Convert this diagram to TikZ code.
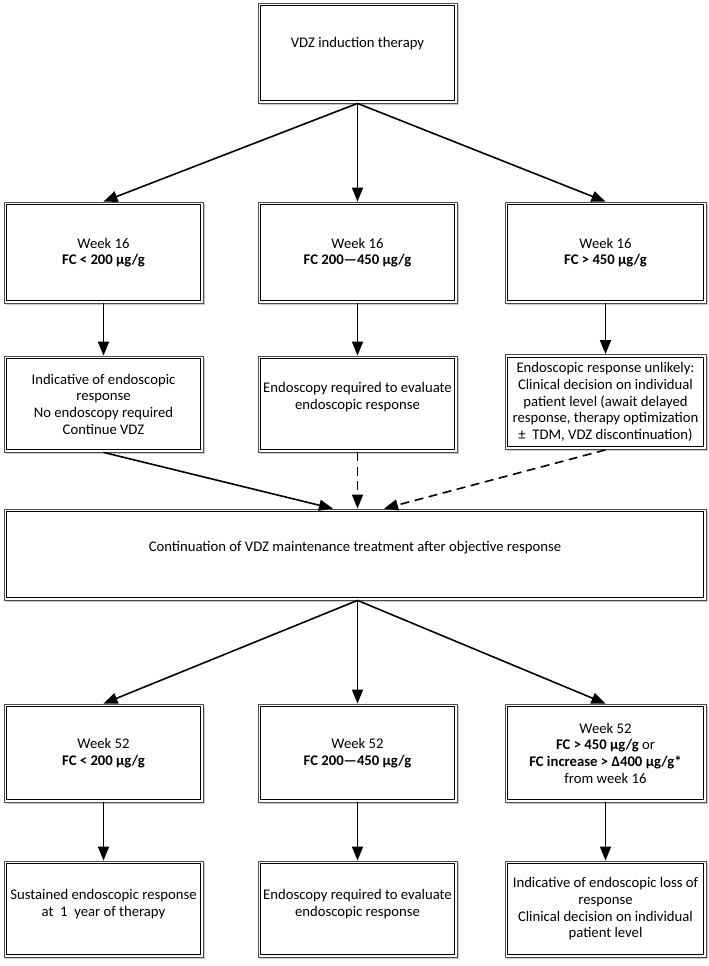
\documentclass[tikz,border=0pt]{standalone}
\usepackage{fontspec}
\setmainfont{Carlito}
\usetikzlibrary{arrows.meta,shadows}
\begin{document}
\begin{tikzpicture}[x=1pt,y=1pt,
  box/.style={rectangle, draw=gray!60!black, line width=0.8pt, fill=white,
    drop shadow={shadow xshift=1.6pt, shadow yshift=-1.6pt, fill=gray!70, opacity=0.6},
    align=center, inner sep=2pt, minimum width=199pt,
    font=\fontsize{14.7}{16.7}\selectfont},
  inframe/.style={draw=black, line width=0.9pt},
  arr/.style={line width=1.6pt, -{Triangle[length=14pt,width=11pt]}},
  darr/.style={arr, dash pattern=on 9pt off 5.5pt}]
\useasboundingbox (0,0) rectangle (709,-966);
% top
\node[box, minimum height=100pt, text depth=21pt] (top) at (357.5,-53) {VDZ induction therapy};
% row 1
\node[box, minimum height=101pt] (a1) at (103.5,-252.5) {Week 16\\\textbf{FC < 200 µg/g}};
\node[box, minimum height=101pt] (b1) at (357.5,-252.5) {Week 16\\\textbf{FC 200—450 µg/g}};
\node[box, minimum height=101pt, minimum width=201pt] (c1) at (605.5,-252.5) {Week 16\\\textbf{FC > 450 µg/g}};
% row 2
\node[box, minimum height=96pt] (a2) at (103.5,-404) {Indicative of endoscopic\\response\\No endoscopy required\\Continue VDZ};
\node[box, minimum height=96pt, text depth=16pt] (b2) at (357.5,-404) {Endoscopy required to evaluate\\endoscopic response};
\node[box, minimum height=95pt, minimum width=201pt] (c2) at (605.5,-402) {Endoscopic response unlikely:\\Clinical decision on individual\\patient level (await delayed\\response, therapy optimization\\±~~TDM, VDZ discontinuation)};
% continuation
\node[box, minimum height=91pt, minimum width=702pt, text depth=17pt] (cont) at (355,-554.5) {Continuation of VDZ maintenance treatment after objective response};
% row 3
\node[box, minimum height=98pt] (a3) at (103.5,-753) {Week 52\\\textbf{FC < 200 µg/g}};
\node[box, minimum height=98pt] (b3) at (357.5,-753) {Week 52\\\textbf{FC 200—450 µg/g}};
\node[box, minimum height=98pt, minimum width=201pt] (c3) at (605.5,-753) {Week 52\\\textbf{FC > 450 µg/g} or\\\textbf{FC increase > Δ400 µg/g*}\\from week 16};
% row 4
\node[box, minimum height=96pt, text depth=12pt] (a4) at (103.5,-909) {Sustained endoscopic response\\at~~1~~year of therapy};
\node[box, minimum height=96pt, text depth=12pt] (b4) at (357.5,-909) {Endoscopy required to evaluate\\endoscopic response};
\node[box, minimum height=96pt, minimum width=201pt] (c4) at (605.5,-909) {Indicative of endoscopic loss of\\response\\Clinical decision on individual\\patient level};
% inner frames
\foreach \n in {top,a1,b1,c1,a2,b2,c2,cont,a3,b3,c3,a4,b4,c4}
  \draw[inframe] ([shift={(3pt,-3pt)}]\n.north west) rectangle ([shift={(-3pt,3pt)}]\n.south east);
% connectors
\draw[arr] (top.south) -- (a1.north);
\draw[arr] (top.south) -- (b1.north);
\draw[arr] (top.south) -- (c1.north);
\draw[arr] (a1.south) -- (a2.north);
\draw[arr] (b1.south) -- (b2.north);
\draw[arr] (c1.south) -- (c2.north);
\coordinate (cl) at ([xshift=-22pt]cont.north);
\coordinate (cr) at ([xshift=29pt]cont.north);
\draw[arr] (a2.south) -- (cl);
\draw[darr] (b2.south) -- (b2.south |- cont.north);
\draw[darr] (c2.south) -- (cr);
\coordinate (cs) at (b3.north |- cont.south);
\draw[arr] (cs) -- (a3.north);
\draw[arr] (cs) -- (b3.north);
\draw[arr] (cs) -- (c3.north);
\draw[arr] (a3.south) -- (a4.north);
\draw[arr] (b3.south) -- (b4.north);
\draw[arr] (c3.south) -- (c4.north);
\end{tikzpicture}
\end{document}
